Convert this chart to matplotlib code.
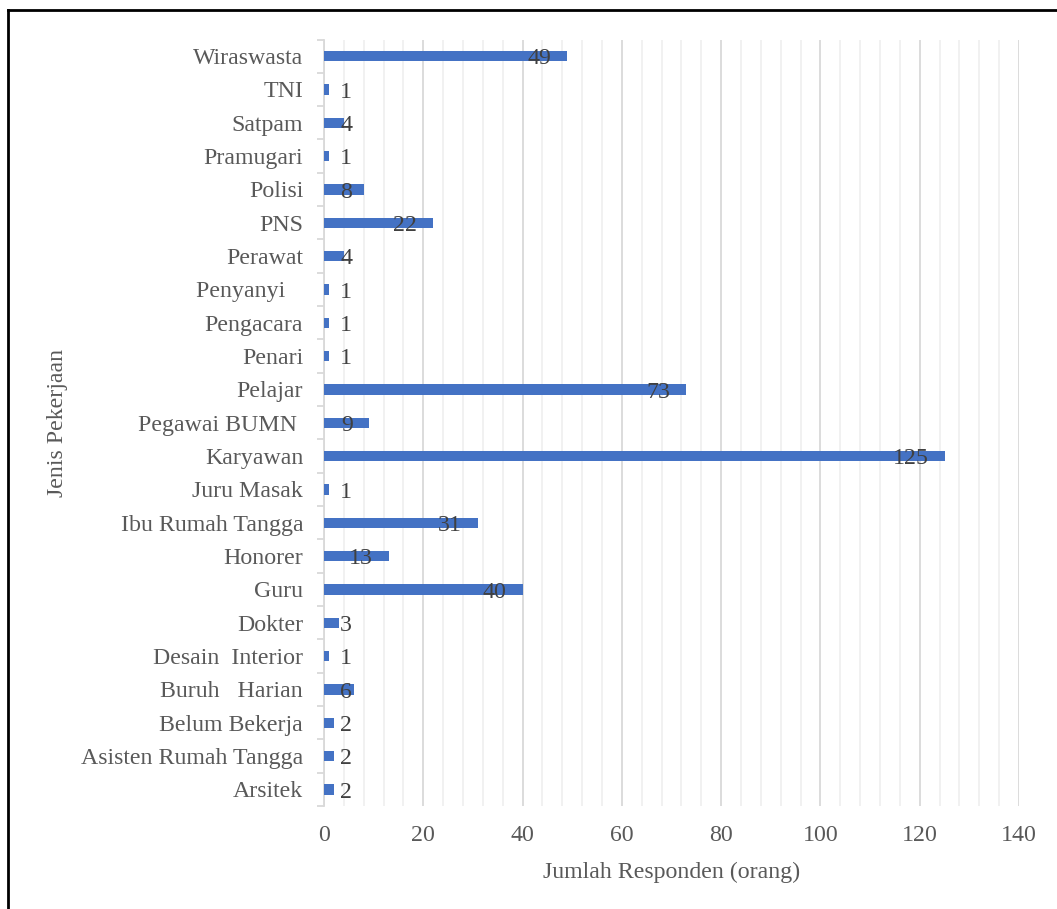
import matplotlib
matplotlib.use("Agg")
import matplotlib.pyplot as plt
from matplotlib.lines import Line2D
from matplotlib.ticker import MultipleLocator

categories = ["Arsitek", "Asisten Rumah Tangga", "Belum Bekerja", "Buruh   Harian",
              "Desain  Interior", "Dokter", "Guru", "Honorer", "Ibu Rumah Tangga",
              "Juru Masak", "Karyawan", "Pegawai BUMN ", "Pelajar", "Penari",
              "Pengacara", "Penyanyi   ", "Perawat", "PNS", "Polisi", "Pramugari",
              "Satpam", "TNI", "Wiraswasta"]
values = [2, 2, 2, 6, 1, 3, 40, 13, 31, 1, 125, 9, 73, 1, 1, 1, 4, 22, 8, 1, 4, 1, 49]

plt.rcParams['font.family'] = ['Liberation Serif', 'DejaVu Serif']

FS = 17.2
W, H = 1057, 909
fig = plt.figure(figsize=(W / 100, H / 100), dpi=100)
ax = fig.add_axes([324 / W, 1 - 806 / H, (1019 - 324) / W, (806 - 39.5) / H])

y = list(range(len(categories)))
ax.barh(y, values, height=0.31, color="#4472C4", zorder=3)
ax.set_xlim(0, 140)
ax.set_ylim(-0.5, len(categories) - 0.5)
ax.set_yticks(y)
ax.set_yticklabels(categories)
ax.xaxis.set_major_locator(MultipleLocator(20))
ax.xaxis.set_minor_locator(MultipleLocator(4))
ax.grid(axis='x', which='major', color="#d9d9d9", lw=1.3, zorder=0)
ax.grid(axis='x', which='minor', color="#f0f0f0", lw=1.3, zorder=0)
for s in ["top", "right", "bottom"]:
    ax.spines[s].set_visible(False)
ax.spines["left"].set_color("#d9d9d9")
ax.spines["left"].set_linewidth(1.3)
ax.tick_params(axis='y', length=0, labelsize=FS, colors="#595959", pad=15)
ax.tick_params(axis='x', which='both', length=0, labelsize=FS, colors="#595959", pad=14)
# category boundary ticks on left axis
ax.set_yticks([i - 0.5 for i in range(len(categories) + 1)], minor=True)
ax.tick_params(axis='y', which='minor', length=5, color="#d9d9d9", width=1.3)

ax.set_xlabel("Jumlah Responden (orang)", fontsize=FS, color="#595959", labelpad=11)
ax.set_ylabel("Jenis Pekerjaan", fontsize=FS, color="#595959", labelpad=9)

# data labels (inside end, overflowing when bar short)
fig.canvas.draw()
r = fig.canvas.get_renderer()
x0 = ax.transData.transform((0, 0))[0]
for yi, v in zip(y, values):
    t = ax.text(v, yi, str(v), ha='right', va='center', fontsize=FS, color="#404040", zorder=4)
    xe = ax.transData.transform((v, yi))[0]
    bb = t.get_window_extent(r)
    w = bb.width
    right = xe - 16
    if right - w < x0 + 16:
        right = x0 + 16 + w
    xd = ax.transData.inverted().transform((right, 0))[0]
    t.set_position((xd, yi - 0.08))

# outer frame (top and left visible)
fig.add_artist(Line2D([8 / W, 8 / W], [0, 1 - 10 / H], transform=fig.transFigure, color="black", lw=2))
fig.add_artist(Line2D([8 / W, 1], [1 - 10 / H, 1 - 10 / H], transform=fig.transFigure, color="black", lw=2))

fig.savefig("out.png", dpi=100, facecolor="white")
